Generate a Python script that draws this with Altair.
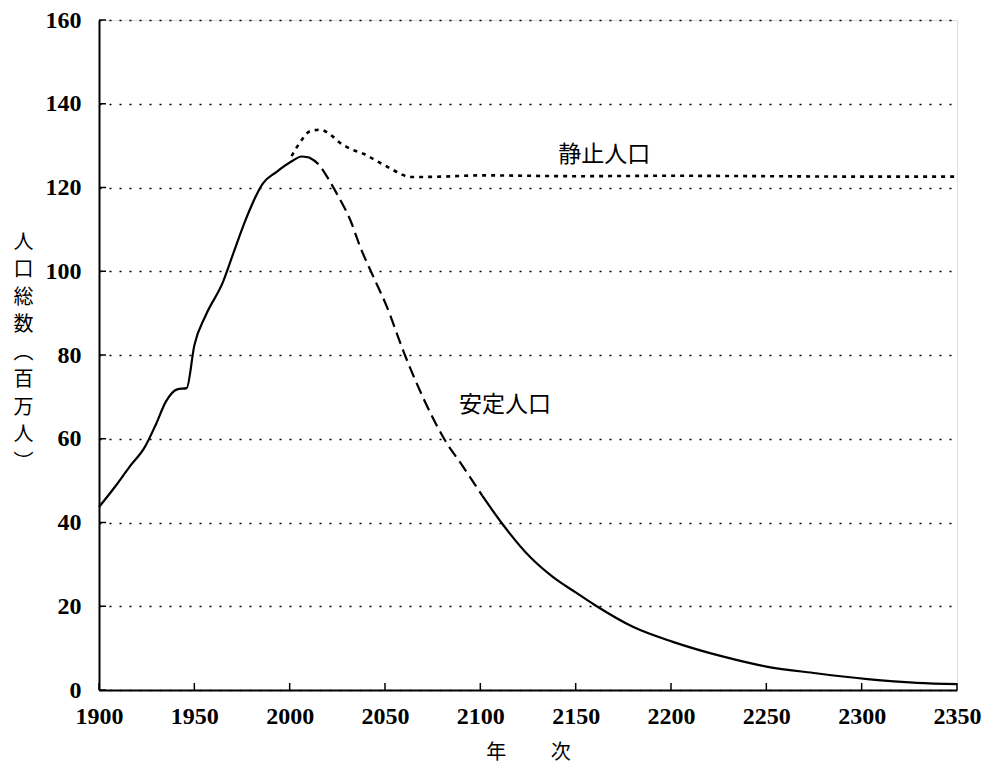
import altair as alt
import pandas as pd

# 実績（実線）
actual_years = [1900, 1909, 1916, 1924, 1930, 1935, 1941, 1946, 1950, 1956, 1965, 1971, 1977, 1986, 1993, 2002, 2006, 2010]
actual_vals = [43.7, 48.9, 53.3, 58.0, 63.6, 68.8, 71.8, 72.1, 82.3, 89.5, 97.4, 105.0, 112.4, 121.0, 123.7, 126.5, 127.4, 127.2]

# 安定人口 投影（破線部分）
proj_years = [2010, 2015, 2020, 2025, 2032, 2037, 2044, 2051, 2060, 2070, 2081, 2091, 2101]
proj_vals = [127.2, 125.6, 122.3, 118.3, 112.0, 105.8, 98.6, 91.5, 80.5, 69.8, 60.0, 53.3, 46.4]

# 安定人口 長期（実線）
tail_years = [2101, 2112, 2126, 2138, 2150, 2160, 2180, 2201, 2228, 2250, 2276, 2303, 2329, 2350]
tail_vals = [46.4, 39.4, 31.8, 27.0, 23.3, 20.3, 15.1, 11.5, 7.9, 5.6, 4.0, 2.6, 1.7, 1.4]

# 静止人口（点線）
static_years = [2001, 2005, 2011, 2016, 2022, 2026, 2032, 2039, 2047, 2053, 2058, 2063, 2080, 2100, 2150, 2200, 2250, 2300, 2350]
static_vals = [127.5, 130.5, 133.5, 133.8, 132.4, 130.8, 129.2, 128.0, 126.0, 124.5, 123.3, 122.5, 122.6, 122.9, 122.7, 122.8, 122.7, 122.6, 122.6]

x_ticks = [1900, 1950, 2000, 2050, 2100, 2150, 2200, 2250, 2300, 2350]
y_ticks = [0, 20, 40, 60, 80, 100, 120, 140, 160]

label_texts = ["静止人口", "安定人口"]
label_years = [2165, 2113]
label_vals = [127.8, 68.0]

y_title = ["人", "口", "総", "数", "︵", "百", "万", "人", "︶"]
x_title = "年　　  次"

W, H = 858, 670

def frame(ys, vs):
    return pd.DataFrame({"year": ys, "value": vs})

xscale = alt.Scale(domain=[1900, 2350], nice=False, zero=False)
yscale = alt.Scale(domain=[0, 160], nice=False)

xaxis = alt.Axis(values=x_ticks, format="d", title=x_title, grid=False, ticks=False,
                 labelFont="Liberation Serif", labelFontWeight="bold", labelFontSize=24,
                 labelColor="black", labelPadding=14, labelFlush=False, labelOverlap=False,
                 domainColor="black", domainWidth=2,
                 titleFont="Noto Sans CJK JP", titleFontSize=20, titleFontWeight="normal",
                 titleColor="black", titleBaseline="middle", titleY=62)
yaxis = alt.Axis(values=y_ticks, title=y_title, grid=True, ticks=False,
                 gridDash=[2, 8], gridColor="black", gridWidth=1.3,
                 labelFont="Liberation Serif", labelFontWeight="bold", labelFontSize=24,
                 labelColor="black", labelPadding=18, labelFlush=False, labelOverlap=False,
                 domainColor="black", domainWidth=2,
                 titleFont="Noto Sans CJK JP", titleFontSize=20, titleFontWeight="normal",
                 titleColor="black", titleAngle=0, titleAlign="center", titleBaseline="top",
                 titleLineHeight=27.5, titleX=-76, titleY=212)

base_x = alt.X("year:Q", scale=xscale, axis=xaxis)
base_y = alt.Y("value:Q", scale=yscale, axis=yaxis)

actual = alt.Chart(frame(actual_years, actual_vals)).mark_line(
    color="black", strokeWidth=2.2, interpolate="monotone").encode(x=base_x, y=base_y)

proj = alt.Chart(frame(proj_years, proj_vals)).mark_line(
    color="black", strokeWidth=2.2, strokeDash=[12, 6], interpolate="monotone").encode(
    x=alt.X("year:Q", scale=xscale), y=alt.Y("value:Q", scale=yscale))

tail = alt.Chart(frame(tail_years, tail_vals)).mark_line(
    color="black", strokeWidth=2.2, interpolate="monotone").encode(
    x=alt.X("year:Q", scale=xscale), y=alt.Y("value:Q", scale=yscale))

static = alt.Chart(frame(static_years, static_vals)).mark_line(
    color="black", strokeWidth=2.6, strokeDash=[4, 5], interpolate="monotone").encode(
    x=alt.X("year:Q", scale=xscale), y=alt.Y("value:Q", scale=yscale))

labels = alt.Chart(pd.DataFrame({"year": label_years, "value": label_vals, "text": label_texts})).mark_text(
    font="Noto Sans CJK JP", fontSize=23, color="black", align="center", baseline="middle").encode(
    x=alt.X("year:Q", scale=xscale), y=alt.Y("value:Q", scale=yscale), text="text:N")

ytick_marks = alt.Chart(pd.DataFrame({"value": y_ticks})).mark_rule(
    color="black", strokeWidth=1.5).encode(
    y=alt.Y("value:Q", scale=yscale), x=alt.value(0), x2=alt.value(7))

xtick_marks = alt.Chart(pd.DataFrame({"year": x_ticks})).mark_rule(
    color="black", strokeWidth=1.5).encode(
    x=alt.X("year:Q", scale=xscale), y=alt.value(H), y2=alt.value(H - 7))

chart = alt.layer(actual, proj, tail, static, labels, ytick_marks, xtick_marks).properties(
    width=W, height=H,
    autosize=alt.AutoSizeParams(type="none"),
    padding={"left": 91, "top": 12, "right": 25, "bottom": 78},
).configure_view(stroke=None).configure(background="white")

chart.save("out.html", embed_options={"renderer": "svg", "actions": False})
